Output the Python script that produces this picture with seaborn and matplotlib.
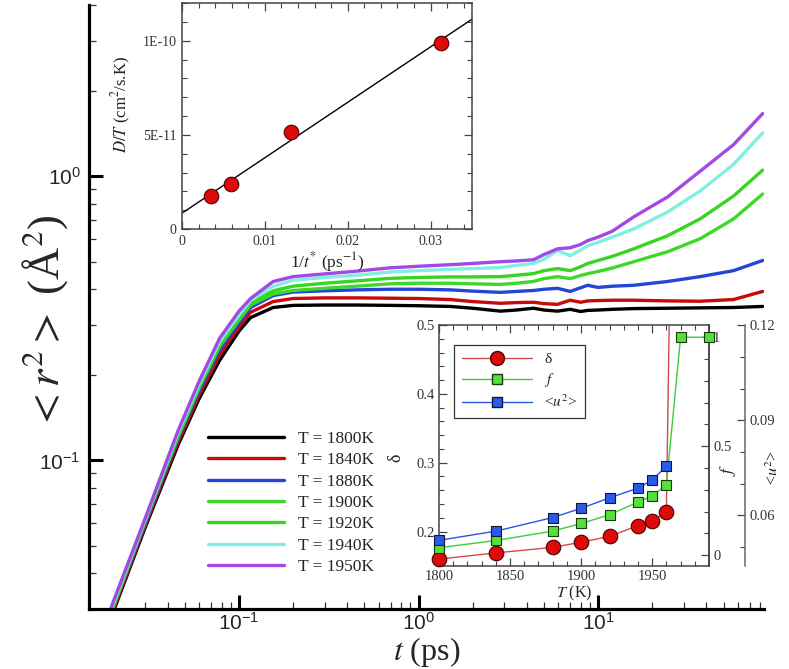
import numpy as np
import pandas as pd
import matplotlib
matplotlib.use("Agg")
import matplotlib.pyplot as plt
import seaborn as sns
from matplotlib.ticker import (LogLocator, NullFormatter, MultipleLocator,
                               FuncFormatter)
from matplotlib.lines import Line2D

# ---------------- data ----------------
TIME_PS = [0.018, 0.02, 0.03, 0.0457, 0.06, 0.078, 0.1, 0.116, 0.155, 0.2,
           0.3, 0.45, 0.7, 1.0, 1.5, 2.0, 2.86, 3.5, 4.37, 5.0, 5.95, 7.0,
           8.0, 8.76, 10.0, 12.0, 15.8, 24.4, 37.0, 56.8, 82.6]

MSD_1800 = [0.024, 0.0295, 0.058, 0.113, 0.165, 0.225, 0.285, 0.318, 0.345, 0.351,
            0.352, 0.352, 0.351, 0.350, 0.348, 0.343, 0.335, 0.338, 0.343, 0.338,
            0.335, 0.340, 0.334, 0.337, 0.338, 0.340, 0.342, 0.343, 0.344, 0.345, 0.348]
MSD_1840 = [0.0245, 0.030, 0.059, 0.116, 0.170, 0.235, 0.295, 0.332, 0.362, 0.371,
            0.373, 0.373, 0.372, 0.371, 0.368, 0.362, 0.357, 0.359, 0.360, 0.356,
            0.354, 0.366, 0.360, 0.364, 0.365, 0.366, 0.366, 0.364, 0.363, 0.368, 0.393]
MSD_1880 = [0.025, 0.0305, 0.060, 0.119, 0.176, 0.245, 0.305, 0.345, 0.380, 0.391,
            0.395, 0.398, 0.400, 0.400, 0.398, 0.394, 0.390, 0.393, 0.396, 0.400,
            0.403, 0.393, 0.405, 0.413, 0.406, 0.410, 0.413, 0.426, 0.443, 0.465, 0.505]
MSD_1900 = [0.0252, 0.0307, 0.061, 0.121, 0.180, 0.252, 0.312, 0.352, 0.385, 0.396,
            0.403, 0.410, 0.418, 0.420, 0.420, 0.418, 0.416, 0.420, 0.426, 0.436,
            0.443, 0.436, 0.447, 0.454, 0.462, 0.475, 0.500, 0.542, 0.602, 0.707, 0.865]
MSD_1920 = [0.0255, 0.031, 0.0615, 0.123, 0.183, 0.257, 0.318, 0.358, 0.395, 0.410,
            0.420, 0.428, 0.437, 0.440, 0.442, 0.442, 0.443, 0.448, 0.454, 0.465,
            0.473, 0.465, 0.480, 0.493, 0.505, 0.522, 0.555, 0.617, 0.707, 0.851, 1.05]
MSD_1940 = [0.026, 0.0315, 0.062, 0.125, 0.186, 0.262, 0.325, 0.365, 0.410, 0.430,
            0.440, 0.448, 0.460, 0.465, 0.470, 0.473, 0.477, 0.485, 0.493, 0.510,
            0.547, 0.525, 0.550, 0.569, 0.585, 0.610, 0.652, 0.748, 0.886, 1.10, 1.42]
MSD_1950 = [0.0265, 0.032, 0.0625, 0.127, 0.190, 0.269, 0.335, 0.371, 0.426, 0.443,
            0.453, 0.463, 0.476, 0.482, 0.488, 0.493, 0.500, 0.503, 0.508, 0.530,
            0.555, 0.560, 0.575, 0.593, 0.610, 0.640, 0.719, 0.845, 1.04, 1.29, 1.66]

SERIES_LABELS = ["T = 1800K", "T = 1840K", "T = 1880K", "T = 1900K",
                 "T = 1920K", "T = 1940K", "T = 1950K"]
SERIES_VALUES = [MSD_1800, MSD_1840, MSD_1880, MSD_1900, MSD_1920, MSD_1940, MSD_1950]
SERIES_COLORS = ["#000000", "#c80a0a", "#2345d8", "#3ed82a", "#38d520",
                 "#7ff0e0", "#a347e6"]

# top inset: D/T vs 1/t*
INV_TSTAR = [0.0035, 0.0059, 0.0132, 0.0312]
D_OVER_T = [1.76e-11, 2.39e-11, 5.16e-11, 9.89e-11]

# bottom inset
T_DELTA = [1800, 1840, 1880, 1900, 1920, 1940, 1950, 1960, 1970]
DELTA = [0.160, 0.169, 0.177, 0.1845, 0.193, 0.2087, 0.215, 0.2285, 1.6]
T_F = [1800, 1840, 1880, 1900, 1920, 1940, 1950, 1960, 1970, 1990]
F_FRAC = [0.0335, 0.067, 0.110, 0.145, 0.185, 0.243, 0.272, 0.321, 1.0, 1.0]
T_U2 = [1800, 1840, 1880, 1900, 1920, 1940, 1950, 1960]
U2 = [0.0521, 0.0550, 0.0593, 0.0622, 0.0655, 0.0686, 0.0711, 0.0755]

# ---------------- style ----------------
sns.set_theme(style="white")
plt.rcParams["font.family"] = ["Liberation Serif", "DejaVu Serif"]
plt.rcParams["mathtext.fontset"] = "stix"

fig = plt.figure(figsize=(7.89, 6.69), dpi=100)

# ---------------- main axes ----------------
ax = fig.add_axes([0.1128, 0.0897, 0.8555, 0.9028])
ax.set_xscale("log")
ax.set_yscale("log")

df = pd.concat([pd.DataFrame({"t": TIME_PS, "msd": v, "T": lab})
                for lab, v in zip(SERIES_LABELS, SERIES_VALUES)], ignore_index=True)
sns.lineplot(data=df, x="t", y="msd", hue="T", palette=SERIES_COLORS,
             estimator=None, sort=False, lw=2.4, ax=ax)

ax.set_xlim(0.0146, 84)
ax.set_ylim(0.03, 4.0)
for s in ["top", "right"]:
    ax.spines[s].set_visible(False)
for s in ["left", "bottom"]:
    ax.spines[s].set_linewidth(2.3)
    ax.spines[s].set_color("black")
ax.xaxis.set_minor_locator(LogLocator(base=10, subs=np.arange(2, 10)))
ax.yaxis.set_minor_locator(LogLocator(base=10, subs=np.arange(2, 10)))
ax.xaxis.set_minor_formatter(NullFormatter())
ax.yaxis.set_minor_formatter(NullFormatter())
ax.tick_params(which="major", direction="in", length=10, width=2.2,
               labelsize=15, color="black", labelfontfamily="Liberation Sans",
               left=True, bottom=True)
ax.tick_params(axis="x", which="major", pad=2)
ax.tick_params(axis="y", which="major", pad=6)
ax.tick_params(which="minor", direction="in", length=5, width=0.9,
               color="#333333", left=True, bottom=True)
ax.set_xlabel(r"$t$ (ps)", fontsize=23, va="bottom")
ax.xaxis.set_label_coords(0.5, -0.099)
ax.set_ylabel(r"$<$$r^2$$>$ (Å$^2$)", fontsize=32)
ax.yaxis.set_label_coords(-0.028, 0.475)

sns.move_legend(ax, loc="upper left", bbox_to_anchor=(0.2636, 0.356),
                bbox_transform=fig.transFigure, title=None, frameon=False,
                fontsize=12.5, handlelength=4.4, handletextpad=0.8,
                labelspacing=0.3, borderpad=0, borderaxespad=0)

# ---------------- top inset ----------------
ax1 = fig.add_axes([0.2307, 0.6577, 0.3676, 0.3378])
ax1.set_facecolor("white")
ax1.set_xlim(0, 0.035)
ax1.set_ylim(0, 1.2e-10)
sns.regplot(x=INV_TSTAR, y=D_OVER_T, ci=None, truncate=False, scatter=False,
            line_kws=dict(color="black", lw=1.0), ax=ax1)
sns.scatterplot(x=INV_TSTAR, y=D_OVER_T, s=110, color="#dd0a0a",
                edgecolor="#4a0000", linewidth=0.8, zorder=4, ax=ax1)
ax1.set_xlim(0, 0.035)
ax1.set_ylim(0, 1.2e-10)
ax1.xaxis.set_major_locator(MultipleLocator(0.01))
ax1.xaxis.set_minor_locator(MultipleLocator(0.002))
ax1.yaxis.set_major_locator(MultipleLocator(5e-11))
ax1.yaxis.set_minor_locator(MultipleLocator(1e-11))
ax1.xaxis.set_major_formatter(FuncFormatter(lambda v, p: "0" if abs(v) < 1e-12 else f"{v:g}"))
ylab = {0: "0", 1: "5E-11", 2: "1E-10"}
ax1.yaxis.set_major_formatter(FuncFormatter(lambda v, p: ylab.get(int(round(v / 5e-11)), "")))
ax1.tick_params(which="both", direction="in", top=True, right=True,
                bottom=True, left=True, color="#444444", labelcolor="#333333")
ax1.tick_params(which="major", length=6, width=0.9, labelsize=10, pad=4)
ax1.tick_params(which="minor", length=3.5, width=0.8)
for s in ax1.spines.values():
    s.set_color("#444444")
    s.set_linewidth(1.1)
ax1.set_xlabel(r"1/$t^{*}$ (ps$^{-1}$)", fontsize=12.5, labelpad=2, color="#222222")
ax1.set_ylabel(r"$D/T$ (cm$^2$/s.K)", fontsize=12, color="#222222")
ax1.yaxis.set_label_coords(-0.17, 0.55)

# ---------------- bottom inset ----------------
ax2 = fig.add_axes([0.5564, 0.154, 0.3422, 0.3602])
ax2.set_facecolor("white")
ax_f = ax2.twinx()
ax_u = ax2.twinx()
ax_u.spines["right"].set_position(("outward", 26))

RED_L, RED_M = "#d44a4a", "#dd0a0a"
GRN_L, GRN_M = "#3ccc3c", "#55e03a"
BLU_L, BLU_M = "#2a55dd", "#2a5ae8"

sns.lineplot(x=T_DELTA, y=DELTA, color=RED_L, lw=1.0, ax=ax2, legend=False)
sns.scatterplot(x=T_DELTA[:-1], y=DELTA[:-1], marker="o", s=110, color=RED_M,
                edgecolor="#4a0000", linewidth=0.8, zorder=4, clip_on=False,
                ax=ax2, legend=False)
sns.lineplot(x=T_F, y=F_FRAC, color=GRN_L, lw=1.0, ax=ax_f, legend=False)
sns.scatterplot(x=T_F, y=F_FRAC, marker="s", s=60, color=GRN_M,
                edgecolor="#1a3a10", linewidth=0.8, zorder=4, clip_on=False,
                ax=ax_f, legend=False)
sns.lineplot(x=T_U2, y=U2, color=BLU_L, lw=1.0, ax=ax_u, legend=False)
sns.scatterplot(x=T_U2, y=U2, marker="s", s=60, color=BLU_M,
                edgecolor="#0a1a40", linewidth=0.8, zorder=4, clip_on=False,
                ax=ax_u, legend=False)

ax2.set_xlim(1800, 1990)
ax2.set_ylim(0.15, 0.5)
ax_f.set_ylim(-0.05, 1.056)
ax_u.set_ylim(0.044, 0.1201)

ax2.xaxis.set_major_locator(MultipleLocator(50))
ax2.xaxis.set_minor_locator(MultipleLocator(10))
ax2.yaxis.set_major_locator(MultipleLocator(0.1))
ax2.yaxis.set_minor_locator(MultipleLocator(0.02))
ax2.yaxis.set_major_formatter(FuncFormatter(lambda v, p: f"{v:.1f}"))
ax_f.yaxis.set_major_locator(MultipleLocator(0.5))
ax_f.yaxis.set_minor_locator(MultipleLocator(0.1))
ax_f.yaxis.set_major_formatter(FuncFormatter(lambda v, p: f"{v:g}"))
ax_u.yaxis.set_major_locator(MultipleLocator(0.03))
ax_u.yaxis.set_minor_locator(MultipleLocator(0.01))
ax_u.yaxis.set_major_formatter(FuncFormatter(lambda v, p: f"{v:.2f}"))

for a in (ax2, ax_f, ax_u):
    a.tick_params(which="both", direction="in", color="#444444",
                  labelcolor="#333333", labelsize=10.5)
    a.tick_params(which="major", length=6, width=0.9, pad=3)
    a.tick_params(which="minor", length=3.5, width=0.8)
ax2.tick_params(which="both", top=True, bottom=True, left=True, right=False)
ax_f.tick_params(which="both", right=True)
ax_u.tick_params(which="both", right=True)
for s in ax2.spines.values():
    s.set_color("#444444")
    s.set_linewidth(1.1)
for k, s in ax_f.spines.items():
    s.set_visible(k == "right")
    s.set_color("#444444")
    s.set_linewidth(1.1)
for k, s in ax_u.spines.items():
    s.set_visible(k == "right")
    s.set_color("#666666")
    s.set_linewidth(1.1)

ax2.set_xlabel(r"$T$ (K)", fontsize=11.5, labelpad=0.5, color="#222222")
ax2.set_ylabel("δ", fontsize=13, color="#222222")
ax2.yaxis.set_label_coords(-0.13, 0.45)
ax_f.set_ylabel(r"$f$", fontsize=13, color="#222222", rotation=90, va="center")
ax_f.yaxis.set_label_coords(1.07, 0.40)
ax_u.set_ylabel(r"<$u^2$>", fontsize=11.5, color="#222222", rotation=90, va="center")
ax_u.yaxis.set_label_coords(1.24, 0.41)

handles = [
    Line2D([], [], color=RED_L, lw=1.0, marker="o", markersize=10,
           markerfacecolor=RED_M, markeredgecolor="#4a0000"),
    Line2D([], [], color=GRN_L, lw=1.0, marker="s", markersize=7.5,
           markerfacecolor=GRN_M, markeredgecolor="#1a3a10"),
    Line2D([], [], color=BLU_L, lw=1.0, marker="s", markersize=7.5,
           markerfacecolor=BLU_M, markeredgecolor="#0a1a40"),
]
leg = ax_u.legend(handles, ["δ", r"$f$", r"<$u^2$>"], loc="upper left",
                  bbox_to_anchor=(0.0556, 0.917), borderaxespad=0,
                  fontsize=11, handlelength=4.6, handletextpad=0.8,
                  labelspacing=0.3, borderpad=0.5, fancybox=False,
                  framealpha=1, edgecolor="#333333")
leg.get_frame().set_linewidth(0.9)

fig.savefig("out.png", dpi=100)
